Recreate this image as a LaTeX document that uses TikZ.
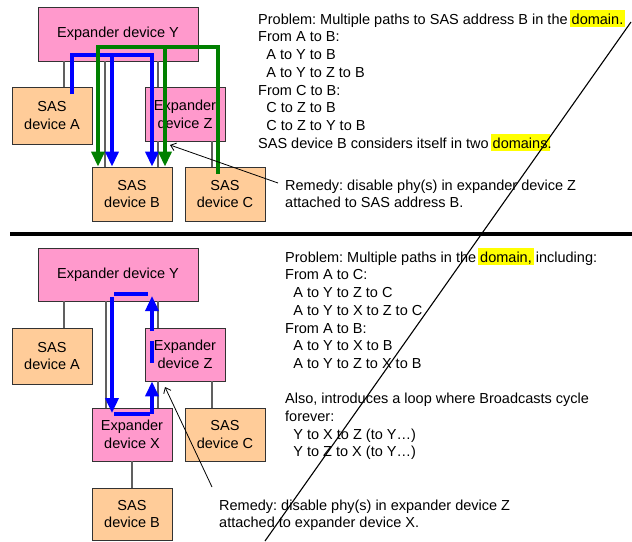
\documentclass[tikz,border=0pt]{standalone}
\usepackage{fontspec}
\setmainfont{Liberation Sans}
\usetikzlibrary{arrows.meta}
\definecolor{expink}{HTML}{FF99CC}
\definecolor{sasorange}{HTML}{FFCC99}
\definecolor{hlyellow}{HTML}{FFFF00}
\definecolor{pathblue}{HTML}{0000FF}
\definecolor{pathgreen}{HTML}{008000}
\definecolor{linkgray}{HTML}{606060}
\frenchspacing
\newcommand\hlword[1]{{\setlength{\fboxsep}{0pt}\hspace*{-2pt}\colorbox{hlyellow}{\hspace*{2pt}\rule[-2.5pt]{0pt}{16.5pt}#1\hspace*{2pt}}\hspace*{-2pt}}}
\newcommand\ind{\hspace*{8.2pt}}
\newcommand\diagfont{\fontsize{14.5}{17.75}\selectfont}
\begin{document}
\begin{tikzpicture}[x=1pt,y=-1pt,
  boxbase/.style={draw=black!80, line width=0.8pt, minimum width=80pt, minimum height=54pt,
    inner sep=0pt, align=center, font=\diagfont},
  expbox/.style={boxbase, fill=expink},
  sasbox/.style={boxbase, fill=sasorange},
  link/.style={draw=linkgray, line width=2pt},
  bluepath/.style={draw=pathblue, line width=3.5pt},
  greenpath/.style={draw=pathgreen, line width=3.5pt},
  bigtip/.style={-{Triangle[width=13pt,length=15pt]}},
  callout/.style={draw=black, line width=0.8pt, -{Straight Barb[length=5pt,width=8pt]}},
  txt/.style={inner sep=0pt, align=left, font=\diagfont, anchor=base west}]
\useasboundingbox (0,0) rectangle (632,541);

% ---------- top diagram ----------
\node[expbox, minimum width=160pt] (Yt) at (118,34) {Expander device Y};
\node[sasbox, minimum height=57pt] (At) at (52,115.5) {SAS\\device A};
\node[expbox] (Zt) at (185,114) {Expander\\device Z};
\node[sasbox] (Bt) at (132,194) {SAS\\device B};
\node[sasbox] (Ct) at (225,194) {SAS\\device C};

\draw[link] (64,0 |- Yt.south) -- (64,0 |- At.north);
\draw[link] (105,0 |- Yt.south) -- (105,0 |- Bt.north);
\draw[link] (158,0 |- Yt.south) -- (158,0 |- Zt.north);
\draw[link] (158,0 |- Zt.south) -- (158,0 |- Bt.north);
\draw[link] (212,0 |- Zt.south) -- (212,0 |- Ct.north);

\draw[bluepath, bigtip] (72,94) -- (72,55) -- (152,55) -- (152,0 |- Bt.north);
\draw[bluepath, bigtip] (112,55) -- (112,0 |- Bt.north);
\draw[greenpath, bigtip] (218,174) -- (218,47) -- (98,47) -- (98,0 |- Bt.north);
\draw[greenpath, bigtip] (165,47) -- (165,0 |- Bt.north);

% text nodes: base anchor = baseline of the last line
\node[txt] (probT) at (258,148.25) {Problem: Multiple paths to SAS address B in the \hlword{domain.}\\From A to B:\\\ind A to Y to B\\\ind A to Y to Z to B\\From C to B:\\\ind C to Z to B\\\ind C to Z to Y to B\\SAS device B considers itself in two \hlword{domains}.};
\node[txt] (remT) at (285,207.75) {Remedy: disable phy(s) in expander device Z\\attached to SAS address B.};
\coordinate (remTfoot) at (278,183);
\coordinate (remTtip) at (170,145);
\draw[callout] (remTfoot) -- (remTtip);

% ---------- separator ----------
\coordinate (sepL) at (10,234);
\coordinate (sepR) at (632,234);
\draw[line width=3.3pt] (sepL) -- (sepR);

% ---------- bottom diagram ----------
\node[expbox, minimum width=160pt, minimum height=53pt] (Yb) at (118,274.5) {Expander device Y};
\node[sasbox, minimum height=56pt] (Ab) at (52,356) {SAS\\device A};
\node[expbox, minimum height=53pt] (Zb) at (185,354.5) {Expander\\device Z};
\node[expbox, minimum height=53pt] (Xb) at (132,434.5) {Expander\\device X};
\node[sasbox, minimum height=53pt] (Cb) at (225,434.5) {SAS\\device C};
\node[sasbox, minimum height=52pt] (Bb) at (132,514) {SAS\\device B};

\draw[link] (64,0 |- Yb.south) -- (64,0 |- Ab.north);
\draw[link] (106,0 |- Yb.south) -- (106,0 |- Xb.north);
\draw[link] (158,0 |- Yb.south) -- (158,0 |- Zb.north);
\draw[link] (158,0 |- Zb.south) -- (158,0 |- Xb.north);
\draw[link] (212,0 |- Zb.south) -- (212,0 |- Cb.north);
\draw[link] (132,0 |- Xb.south) -- (132,0 |- Bb.north);

\draw[bluepath] (148,294) -- (114,294);
\draw[bluepath, bigtip] (112,297) -- (112,413);
\draw[bluepath] (114,414) -- (150,414);
\draw[bluepath, bigtip] (152,414) -- (152,0 |- Zb.south);
\draw[bluepath] (152,341) -- (152,363);
\draw[bluepath, bigtip] (152,331) -- (152,296);

\node[txt] (probB) at (285,368.5) {Problem: Multiple paths in the \hlword{domain,} including:\\From A to C:\\\ind A to Y to Z to C\\\ind A to Y to X to Z to C\\From A to B:\\\ind A to Y to X to B\\\ind A to Y to Z to X to B};
\node[txt] (alsoB) at (285,456.75) {Also, introduces a loop where Broadcasts cycle\\forever:\\\ind Y to X to Z (to Y…)\\\ind Y to Z to X (to Y…)};
\node[txt] (remB) at (219,527.75) {Remedy: disable phy(s) in expander device Z\\attached to expander device X.};
\coordinate (remBfoot) at (212,487);
\coordinate (remBtip) at (165,387);
\draw[callout] (remBfoot) -- (remBtip);

% ---------- diagonal strike line ----------
\coordinate (diagTop) at (631,22);
\coordinate (diagBot) at (265,541);
\draw[line width=1.1pt] (diagTop) -- (diagBot);
\end{tikzpicture}
\end{document}
